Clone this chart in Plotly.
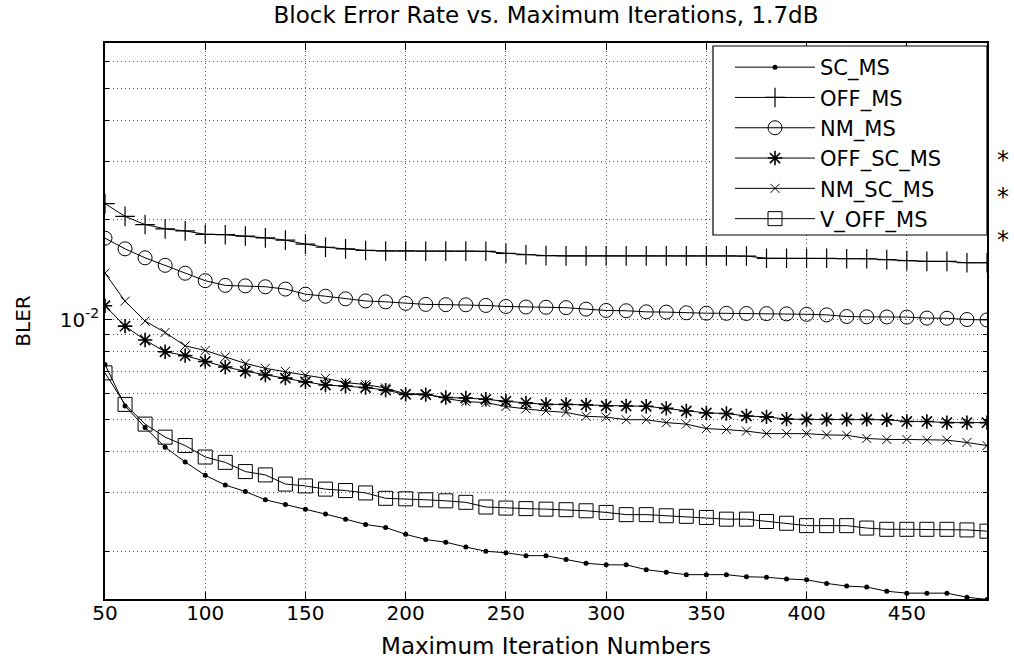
import plotly.graph_objects as go

iterations = [50, 60, 70, 80, 90, 100, 110, 120, 130, 140, 150, 160, 170, 180, 190,
              200, 210, 220, 230, 240, 250, 260, 270, 280, 290, 300, 310, 320, 330, 340,
              350, 360, 370, 380, 390, 400, 410, 420, 430, 440, 450, 460, 470, 480, 490]

sc_ms = [7.32e-3, 5.49e-3, 4.73e-3, 4.12e-3, 3.72e-3, 3.39e-3, 3.17e-3, 3.03e-3, 2.86e-3,
         2.77e-3, 2.68e-3, 2.59e-3, 2.50e-3, 2.41e-3, 2.36e-3, 2.25e-3, 2.17e-3, 2.13e-3,
         2.06e-3, 2.00e-3, 1.98e-3, 1.94e-3, 1.94e-3, 1.89e-3, 1.84e-3, 1.82e-3, 1.82e-3,
         1.76e-3, 1.73e-3, 1.70e-3, 1.70e-3, 1.70e-3, 1.675e-3, 1.67e-3, 1.65e-3, 1.64e-3,
         1.60e-3, 1.57e-3, 1.56e-3, 1.515e-3, 1.495e-3, 1.495e-3, 1.495e-3, 1.453e-3, 1.431e-3]

off_ms = [2.24e-2, 2.05e-2, 1.937e-2, 1.88e-2, 1.853e-2, 1.81e-2, 1.805e-2, 1.788e-2, 1.766e-2,
          1.738e-2, 1.69e-2, 1.654e-2, 1.636e-2, 1.618e-2, 1.612e-2, 1.612e-2, 1.61e-2, 1.61e-2,
          1.61e-2, 1.608e-2, 1.586e-2, 1.57e-2, 1.561e-2, 1.558e-2, 1.558e-2, 1.558e-2, 1.558e-2,
          1.558e-2, 1.558e-2, 1.558e-2, 1.558e-2, 1.558e-2, 1.556e-2, 1.532e-2, 1.532e-2, 1.532e-2,
          1.532e-2, 1.527e-2, 1.527e-2, 1.518e-2, 1.507e-2, 1.499e-2, 1.499e-2, 1.485e-2, 1.485e-2]

nm_ms = [1.762e-2, 1.636e-2, 1.537e-2, 1.459e-2, 1.381e-2, 1.311e-2, 1.269e-2, 1.265e-2, 1.257e-2,
         1.237e-2, 1.194e-2, 1.177e-2, 1.156e-2, 1.139e-2, 1.132e-2, 1.12e-2, 1.112e-2, 1.11e-2,
         1.109e-2, 1.104e-2, 1.096e-2, 1.092e-2, 1.09e-2, 1.087e-2, 1.076e-2, 1.066e-2, 1.064e-2,
         1.056e-2, 1.054e-2, 1.049e-2, 1.046e-2, 1.045e-2, 1.044e-2, 1.043e-2, 1.041e-2, 1.038e-2,
         1.034e-2, 1.022e-2, 1.02e-2, 1.019e-2, 1.018e-2, 1.011e-2, 1.01e-2, 1.001e-2, 0.998e-2]

off_sc_ms = [1.102e-2, 0.956e-2, 0.868e-2, 0.80e-2, 0.779e-2, 0.748e-2, 0.72e-2, 0.699e-2, 0.681e-2,
             0.666e-2, 0.649e-2, 0.635e-2, 0.631e-2, 0.624e-2, 0.613e-2, 0.595e-2, 0.594e-2, 0.582e-2,
             0.58e-2, 0.575e-2, 0.567e-2, 0.561e-2, 0.555e-2, 0.555e-2, 0.553e-2, 0.549e-2, 0.549e-2,
             0.548e-2, 0.540e-2, 0.530e-2, 0.523e-2, 0.521e-2, 0.512e-2, 0.509e-2, 0.501e-2, 0.50e-2,
             0.50e-2, 0.50e-2, 0.50e-2, 0.499e-2, 0.493e-2, 0.493e-2, 0.489e-2, 0.489e-2, 0.489e-2]

nm_sc_ms = [1.382e-2, 1.137e-2, 0.99e-2, 0.915e-2, 0.834e-2, 0.807e-2, 0.772e-2, 0.738e-2, 0.713e-2,
            0.698e-2, 0.68e-2, 0.665e-2, 0.646e-2, 0.637e-2, 0.622e-2, 0.597e-2, 0.597e-2, 0.578e-2,
            0.566e-2, 0.562e-2, 0.547e-2, 0.538e-2, 0.53e-2, 0.525e-2, 0.511e-2, 0.508e-2, 0.499e-2,
            0.499e-2, 0.489e-2, 0.484e-2, 0.469e-2, 0.466e-2, 0.461e-2, 0.453e-2, 0.453e-2, 0.453e-2,
            0.449e-2, 0.448e-2, 0.438e-2, 0.435e-2, 0.435e-2, 0.433e-2, 0.433e-2, 0.426e-2, 0.417e-2]

v_off_ms = [0.691e-2, 0.555e-2, 0.484e-2, 0.442e-2, 0.417e-2, 0.385e-2, 0.371e-2, 0.348e-2, 0.340e-2,
            0.319e-2, 0.315e-2, 0.308e-2, 0.305e-2, 0.30e-2, 0.289e-2, 0.288e-2, 0.286e-2, 0.284e-2,
            0.281e-2, 0.272e-2, 0.270e-2, 0.269e-2, 0.268e-2, 0.267e-2, 0.265e-2, 0.262e-2, 0.258e-2,
            0.258e-2, 0.256e-2, 0.255e-2, 0.253e-2, 0.25e-2, 0.25e-2, 0.246e-2, 0.243e-2, 0.239e-2,
            0.239e-2, 0.239e-2, 0.235e-2, 0.233e-2, 0.233e-2, 0.233e-2, 0.233e-2, 0.232e-2, 0.23e-2]

x_ticks = [50, 100, 150, 200, 250, 300, 350, 400, 450]
y_major = [1e-2]
y_major_text = ["10<sup>-2</sup>"]
y_minor = [2e-3, 3e-3, 4e-3, 5e-3, 6e-3, 7e-3, 8e-3, 9e-3, 2e-2, 3e-2, 4e-2, 5e-2, 6e-2]

series = [
    ("SC_MS", sc_ms, dict(symbol="circle", size=5, color="black")),
    ("OFF_MS", off_ms, dict(symbol="cross-thin-open", size=14, color="black",
                            line=dict(color="black", width=1.2))),
    ("NM_MS", nm_ms, dict(symbol="circle-open", size=14, color="black",
                          line=dict(color="black", width=1))),
    ("OFF_SC_MS", off_sc_ms, dict(symbol="asterisk-open", size=12, color="black",
                                  line=dict(color="black", width=1.6))),
    ("NM_SC_MS", nm_sc_ms, dict(symbol="x-thin-open", size=9, color="black",
                                line=dict(color="black", width=1))),
    ("V_OFF_MS", v_off_ms, dict(symbol="square-open", size=14, color="black",
                                line=dict(color="black", width=1))),
]

W, H = 1014, 662
ML, MR, MT, MB = 105, 27, 43, 63
PW, PH = W - ML - MR, H - MT - MB


def px_to_paper_x(px):
    return (px - ML) / PW


def px_to_paper_y(py):
    return (H - MB - py) / PH


FONT = "DejaVu Sans"
fig = go.Figure()
for name, vals, marker in series:
    fig.add_trace(go.Scatter(
        x=iterations, y=vals, name=name, mode="lines+markers",
        line=dict(color="black", width=1), marker=marker,
    ))

fig.update_layout(
    width=W, height=H,
    margin=dict(l=ML, r=MR, t=MT, b=MB, autoexpand=False),
    paper_bgcolor="white", plot_bgcolor="white",
    font=dict(family=FONT, size=20, color="black"),
    title=dict(text="Block Error Rate vs. Maximum Iterations, 1.7dB",
               x=546 / W, xanchor="center", y=1 - 15 / H, yanchor="middle",
               font=dict(family=FONT, size=23, color="black")),
    showlegend=True,
    legend=dict(x=px_to_paper_x(730), xanchor="left", y=px_to_paper_y(47), yanchor="top",
                bgcolor="rgba(0,0,0,0)", borderwidth=0,
                font=dict(family=FONT, size=21, color="black"),
                itemwidth=80, tracegroupgap=0),
)

# legend frame
fig.add_shape(type="rect", xref="paper", yref="paper",
              x0=px_to_paper_x(713), x1=1.0, y0=px_to_paper_y(235), y1=px_to_paper_y(46),
              line=dict(color="black", width=1.2), fillcolor="white", layer="above")

fig.update_xaxes(
    range=[50, 490], tickmode="array", tickvals=x_ticks, automargin=False,
    showline=True, linecolor="black", linewidth=1.5, mirror="ticks",
    ticks="inside", ticklen=7, tickcolor="black",
    showgrid=True, gridcolor="#555555", gridwidth=1, griddash="1px,3px",
    zeroline=False, ticklabelstandoff=-5,
    tickfont=dict(family=FONT, size=20),
    title=dict(text="Maximum Iteration Numbers", font=dict(family=FONT, size=23), standoff=14),
)

fig.update_yaxes(
    type="log", range=[-2.843, -1.165], automargin=False,
    tickmode="array", tickvals=y_major, ticktext=y_major_text,
    showline=True, linecolor="black", linewidth=1.5, mirror="ticks",
    ticks="inside", ticklen=7, tickcolor="black",
    showgrid=True, gridcolor="#555555", gridwidth=1, griddash="1px,3px",
    zeroline=False,
    tickfont=dict(family=FONT, size=20),
    minor=dict(tickmode="array", tickvals=y_minor, ticks="inside", ticklen=4,
               tickcolor="black", showgrid=True, gridcolor="#555555", gridwidth=1,
               griddash="1px,3px"),
    title=dict(text="BLER", font=dict(family=FONT, size=20), standoff=24),
)

for yy in [160, 197, 240]:
    fig.add_annotation(x=px_to_paper_x(1003), y=px_to_paper_y(yy), xref="paper", yref="paper",
                       text="*", showarrow=False,
                       font=dict(family=FONT, size=24, color="black"),
                       xanchor="center", yanchor="middle")

fig.write_html("out.html")
